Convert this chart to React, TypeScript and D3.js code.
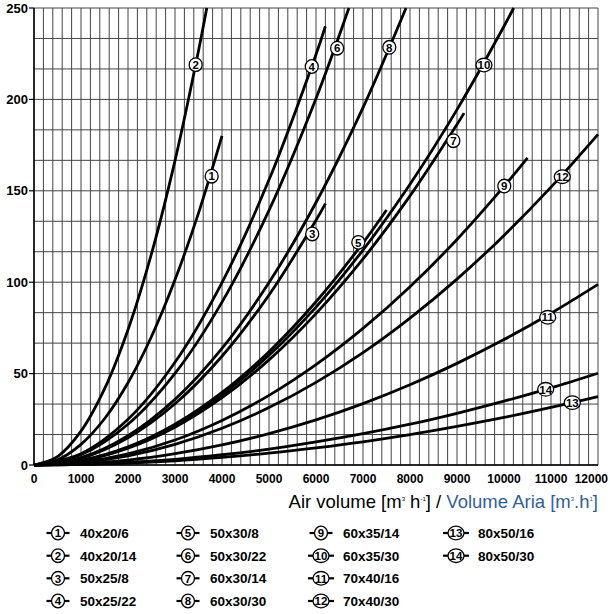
import React from "react";
import * as d3 from "d3";

const xTicks = [0, 1000, 2000, 3000, 4000, 5000, 6000, 7000, 8000, 9000, 10000, 11000, 12000];
const yTicks = [0, 50, 100, 150, 200, 250];

const X500 = [0, 500, 1000, 1500, 2000, 2500, 3000, 3500];
const X1000 = [0, 1000, 2000, 3000, 4000, 5000, 6000, 7000, 8000, 9000, 10000, 11000, 12000];

const c1x = [...X500, 4000];
const c1y = [0, 2.8, 11.3, 25.3, 45, 70.3, 101.3, 137.8, 180];
const c2x = [...X500, 3676];
const c2y = [0, 4.6, 18.5, 41.6, 74, 115.6, 166.5, 226.6, 250];
const c3x = [0, 1000, 2000, 3000, 4000, 5000, 6000, 6200];
const c3y = [0, 3.7, 14.9, 33.5, 59.5, 93, 133.9, 143];
const c4x = [0, 1000, 2000, 3000, 4000, 5000, 6000, 6200];
const c4y = [0, 6.2, 25, 56.2, 99.8, 156, 224.6, 240];
const c5x = [0, 1000, 2000, 3000, 4000, 5000, 6000, 7000, 7500];
const c5y = [0, 2.5, 9.9, 22.3, 39.7, 62, 89.3, 121.5, 139.5];
const c6x = [0, 1000, 2000, 3000, 4000, 5000, 6000, 6700];
const c6y = [0, 5.6, 22.3, 50.1, 89.1, 139.3, 200.5, 250];
const c7x = [0, 1000, 2000, 3000, 4000, 5000, 6000, 7000, 8000, 9000, 9150];
const c7y = [0, 2.3, 9.2, 20.7, 36.8, 57.5, 82.8, 112.7, 147.2, 186.3, 192.5];
const c8x = [0, 1000, 2000, 3000, 4000, 5000, 6000, 7000, 7915];
const c8y = [0, 4, 16, 35.9, 63.8, 99.8, 143.6, 195.5, 250];
const c9x = [0, 1000, 2000, 3000, 4000, 5000, 6000, 7000, 8000, 9000, 10000, 10500];
const c9y = [0, 1.5, 6.1, 13.7, 24.4, 38.1, 54.9, 74.7, 97.5, 123.4, 152.4, 168];
const c10x = [0, 1000, 2000, 3000, 4000, 5000, 6000, 7000, 8000, 9000, 10000, 10206];
const c10y = [0, 2.4, 9.6, 21.6, 38.4, 60, 86.4, 117.6, 153.6, 194.4, 240, 250];
const c11y = [0, 0.7, 2.7, 6.2, 11, 17.2, 24.7, 33.6, 43.9, 55.6, 68.6, 83, 98.8];
const c12y = [0, 1.3, 5, 11.3, 20.1, 31.4, 45.2, 61.5, 80.4, 101.7, 125.6, 152, 180.9];
const c13y = [0, 0.3, 1, 2.3, 4.2, 6.5, 9.4, 12.7, 16.6, 21.1, 26, 31.5, 37.4];
const c14y = [0, 0.3, 1.4, 3.1, 5.6, 8.7, 12.6, 17.1, 22.3, 28.3, 34.9, 42.2, 50.2];

const curveIds = [1, 2, 3, 4, 5, 6, 7, 8, 9, 10, 11, 12, 13, 14];
const curveXs = [c1x, c2x, c3x, c4x, c5x, c6x, c7x, c8x, c9x, c10x, X1000, X1000, X1000, X1000];
const curveYs = [c1y, c2y, c3y, c4y, c5y, c6y, c7y, c8y, c9y, c10y, c11y, c12y, c13y, c14y];

const labelX = [3780, 3440, 5920, 5910, 6900, 6450, 8922, 7560, 10006, 9574, 10930, 11240, 11453, 10887];
const labelY = [158, 219, 126.4, 218, 121.8, 228, 177.4, 228.5, 152.6, 218.8, 80.8, 157.7, 34.1, 41.4];

const legendNames = [
  "40x20/6", "40x20/14", "50x25/8", "50x25/22",
  "50x30/8", "50x30/22", "60x30/14", "60x30/30",
  "60x35/14", "60x35/30", "70x40/16", "70x40/30",
  "80x50/16", "80x50/30",
];

const W = 610;
const H = 614;
const left = 34, right = 598, top = 8, bottom = 465;

export default function App() {
  const x = d3.scaleLinear().domain([0, 12000]).range([left, right]);
  const y = d3.scaleLinear().domain([0, 250]).range([bottom, top]);
  const vGrid = d3.range(0, 12001, 200);
  const hGrid = d3.range(0, 16).map((i) => (i * 250) / 15);
  const line = d3
    .line<[number, number]>()
    .x((d) => x(d[0]))
    .y((d) => y(d[1]))
    .curve(d3.curveCatmullRom.alpha(0.5));

  const font = "'Liberation Sans', Arial, sans-serif";
  const legendTextX = [80, 210, 343, 478];
  const legendRowY = [533, 555.7, 578.3, 601];

  const marker = (cx: number, cy: number, id: number, key: string, dashes: boolean) => {
    const rx = id >= 10 ? 8 : 6.5;
    return (
      <g key={key}>
        {dashes && (
          <>
            <line x1={cx - rx - 5} x2={cx - rx} y1={cy} y2={cy} stroke="#000" strokeWidth={2.2} />
            <line x1={cx + rx} x2={cx + rx + 5} y1={cy} y2={cy} stroke="#000" strokeWidth={2.2} />
          </>
        )}
        <ellipse cx={cx} cy={cy} rx={rx} ry={6.8} fill="#fff" stroke="#000" strokeWidth={1.3} />
        <text
          x={cx}
          y={cy + 4.2}
          textAnchor="middle"
          fontFamily={font}
          fontWeight="bold"
          fontSize={11.5}
          fill="#000"
        >
          {id}
        </text>
      </g>
    );
  };

  return (
    <svg width={W} height={H} style={{ position: "absolute", left: 0, top: 0, background: "#fff" }}>
      <rect width={W} height={H} fill="#fff" />
      {vGrid.map((v) => (
        <line key={"v" + v} x1={x(v)} x2={x(v)} y1={y(250)} y2={y(0)} stroke="#444" strokeWidth={1} />
      ))}
      {hGrid.map((v, i) => (
        <line key={"h" + i} x1={x(0)} x2={x(12000)} y1={y(v)} y2={y(v)} stroke="#444" strokeWidth={1} />
      ))}
      <line x1={x(0)} x2={x(0)} y1={y(250)} y2={y(0)} stroke="#000" strokeWidth={1.5} />
      <line x1={x(0)} x2={x(12000)} y1={y(0)} y2={y(0)} stroke="#000" strokeWidth={1.5} />
      {yTicks.map((t) => (
        <g key={"yt" + t}>
          <line x1={x(0) - 5} x2={x(0)} y1={y(t)} y2={y(t)} stroke="#000" strokeWidth={1.2} />
          <text x={x(0) - 6} y={y(t) + 4.5} textAnchor="end" fontFamily={font} fontWeight="bold" fontSize={13}>
            {t}
          </text>
        </g>
      ))}
      {xTicks.map((t, i) => {
        const last = i === xTicks.length - 1;
        return (
          <text
            key={"xt" + t}
            x={last ? 608 : x(t)}
            y={483}
            textAnchor={last ? "end" : "middle"}
            fontFamily={font}
            fontWeight="bold"
            fontSize={12}
          >
            {t}
          </text>
        );
      })}
      <text x={598} y={508} textAnchor="end" fontFamily={font} fontSize={18.5} fill="#000">
        Air volume [m<tspan fontSize={6} dy={-7}>3</tspan>
        <tspan dy={7}> h</tspan>
        <tspan fontSize={6} dy={-7}>-1</tspan>
        <tspan dy={7}>] / </tspan>
        <tspan fill="#2f5f9a">Volume Aria [m</tspan>
        <tspan fill="#2f5f9a" fontSize={6} dy={-7}>3</tspan>
        <tspan fill="#2f5f9a" dy={7}>.h</tspan>
        <tspan fill="#2f5f9a" fontSize={6} dy={-7}>1</tspan>
        <tspan fill="#2f5f9a" dy={7}>]</tspan>
      </text>
      {curveIds.map((id, i) => {
        const pts = curveXs[i].map((xv, j) => [xv, curveYs[i][j]] as [number, number]);
        return <path key={"c" + id} d={line(pts) || ""} fill="none" stroke="#000" strokeWidth={2.8} />;
      })}
      {curveIds.map((id, i) => marker(x(labelX[i]), y(labelY[i]), id, "l" + id, false))}
      {legendNames.map((name, i) => {
        const col = Math.floor(i / 4);
        const row = i % 4;
        const tx = legendTextX[col];
        const ty = legendRowY[row];
        return (
          <g key={"lg" + i}>
            {marker(tx - 22, ty, i + 1, "lm" + i, true)}
            <text x={tx} y={ty + 5} fontFamily={font} fontWeight="bold" fontSize={13.5}>
              {name}
            </text>
          </g>
        );
      })}
    </svg>
  );
}
